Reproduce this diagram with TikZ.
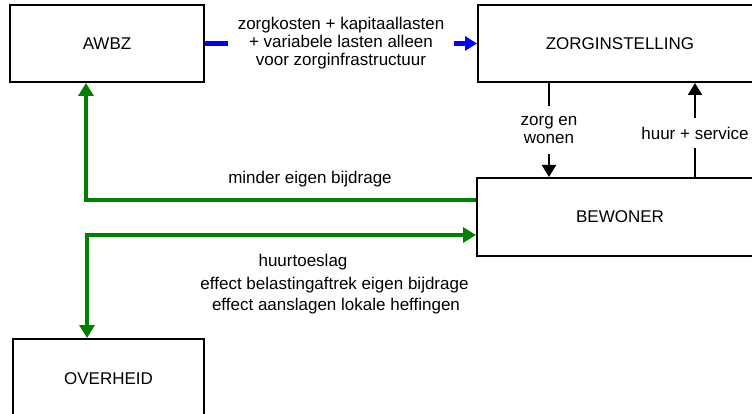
\documentclass[tikz,border=0pt]{standalone}
\usepackage{fontspec}
\setmainfont{Liberation Sans}
\usepackage{tikz}
\usetikzlibrary{arrows.meta}
\usetikzlibrary{calc}

\definecolor{flujoverde}{RGB}{0,128,0}
\definecolor{flujoazul}{RGB}{0,0,255}

\begin{document}
\begin{tikzpicture}[
        x=1pt, y=-1pt,
        font=\fontsize{17}{18}\selectfont,
        caja/.style={draw, line width=2pt, minimum height=77pt, inner sep=0pt},
        etiqueta/.style={fill=white, text=black, align=center, inner sep=2pt},
        flecha/.style={line width=2pt, -{Triangle[length=12pt,width=14pt]}},
        flechaverde/.style={flujoverde, line width=4pt, -{Triangle[length=13pt,width=15pt]}},
        flechaazul/.style={flujoazul, line width=4.5pt, -{Triangle[length=12pt,width=14pt]}}
    ]
        % --- Marco de la imagen ---
        \clip (0,0) rectangle (752,414);

        % --- Cajas ---
        \node[caja, minimum width=194pt] (awbz) at (107,43.5) {AWBZ};
        \node[caja, minimum width=284pt] (zorg) at (620,43.5) {ZORGINSTELLING};
        \node[caja, minimum width=286pt, minimum height=78pt] (bewoner) at (620,217) {BEWONER};
        \node[caja, minimum width=191pt, minimum height=80pt] (overheid) at (108.5,379) {OVERHEID};

        % --- Financiering AWBZ naar zorginstelling ---
        \draw[flechaazul] (awbz.east) -- (zorg.west)
            node[midway, etiqueta, inner xsep=10pt, inner ysep=0pt]
            {zorgkosten + kapitaallasten\\+ variabele lasten alleen\\voor zorginfrastructuur};

        % --- Zorginstelling y bewoner ---
        \coordinate (zw) at ($(zorg.south west)+(72,0)$);
        \draw[flecha] (zw) -- (zw |- bewoner.north)
            node[midway, etiqueta, inner ysep=10pt, text depth=0pt] {zorg en\\wonen};
        \coordinate (hs) at ($(bewoner.north west)+(219,0)$);
        \draw[flecha] (hs) -- (hs |- zorg.south)
            node[midway, etiqueta, inner ysep=9pt, yshift=-3pt] {huur + service};

        % --- Flujos verdes ---
        \draw[flechaverde] ([yshift=17pt]bewoner.west) -| ([xshift=-21pt]awbz.south);
        \node (minder) at (310,179) {minder eigen bijdrage};

        \draw[flechaverde, {Triangle[length=13pt,width=15pt]}-{Triangle[length=13pt,width=15pt]}]
            ([xshift=-21.5pt]overheid.north) |- ([yshift=-18pt]bewoner.west);
        \node (huurtoeslag) at (303,262) {huurtoeslag};
        \node (belasting) at (334.5,285) {effect belastingaftrek eigen bijdrage};
        \node (heffingen) at (336,306) {effect aanslagen lokale heffingen};

    \end{tikzpicture}
\end{document}
